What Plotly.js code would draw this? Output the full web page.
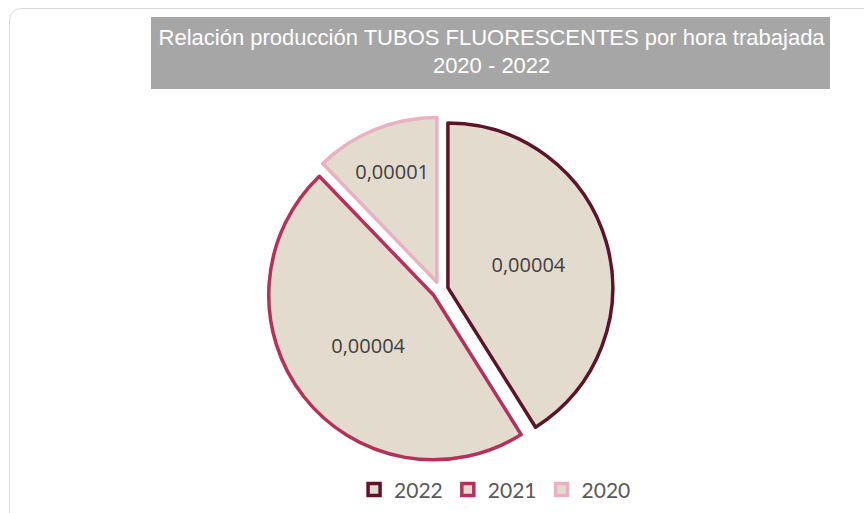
<!DOCTYPE html>
<html>
<head>
<meta charset="utf-8">
<script src="https://cdn.plot.ly/plotly-3.0.1.min.js"></script>
<style>
html,body{margin:0;padding:0;background:#fff;}
#wrap{position:relative;width:864px;height:513px;overflow:hidden;}
#frame{position:absolute;left:9px;top:8px;width:880px;height:540px;border:1px solid #d9d9d9;border-radius:12px;box-sizing:border-box;}
#chart{position:absolute;left:0;top:0;width:864px;height:513px;}
</style>
</head>
<body>
<div id="wrap"><div id="frame"></div><div id="chart"></div></div>
<script>
const years = ['2022', '2021', '2020'];
const values = [0.0000391, 0.0000445, 0.0000116];
const borderColors = ['#5c1528', '#b5315a', '#e8b2c3'];
const fillColor = '#e3dbcd';
const titleText = 'Relación producción TUBOS FLUORESCENTES por hora trabajada<br>2020 - 2022';

const trace = {
  type: 'pie',
  labels: years,
  values: values,
  sort: false,
  direction: 'clockwise',
  rotation: 0,
  pull: [0.05, 0.05, 0.05],
  marker: {colors: [fillColor, fillColor, fillColor], line: {color: borderColors, width: 3.5}},
  texttemplate: '%{value:.5f}',
  textposition: 'inside',
  insidetextorientation: 'horizontal',
  textfont: {family: 'Open Sans, sans-serif', size: 20, color: '#404040'},
  hoverinfo: 'none',
  domain: {x: [0.309, 0.7095], y: [0.0975, 0.772]}
};

const layout = {
  width: 864, height: 513,
  margin: {l: 0, r: 0, t: 0, b: 0},
  paper_bgcolor: 'rgba(0,0,0,0)',
  plot_bgcolor: 'rgba(0,0,0,0)',
  separators: ',.',
  showlegend: true,
  legend: {
    orientation: 'h', x: 0.573, xanchor: 'center', y: 0.005, yanchor: 'bottom',
    font: {family: 'Lato, sans-serif', size: 21, color: '#595959'},
    traceorder: 'normal', itemwidth: 30
  },
  title: {
    text: titleText,
    x: 0.569, xanchor: 'center', y: 0.913, yanchor: 'middle',
    font: {family: 'Liberation Sans Narrow, Arial Narrow, sans-serif', size: 22, color: '#ffffff'}
  },
  shapes: [{
    type: 'rect', xref: 'paper', yref: 'paper',
    x0: 151/864, x1: 830/864, y0: 1 - 89/513, y1: 1 - 17/513,
    fillcolor: '#a6a6a6', line: {width: 0}, layer: 'below'
  }]
};

Plotly.newPlot('chart', [trace], layout, {staticPlot: true, displayModeBar: false});
</script>
</body>
</html>
